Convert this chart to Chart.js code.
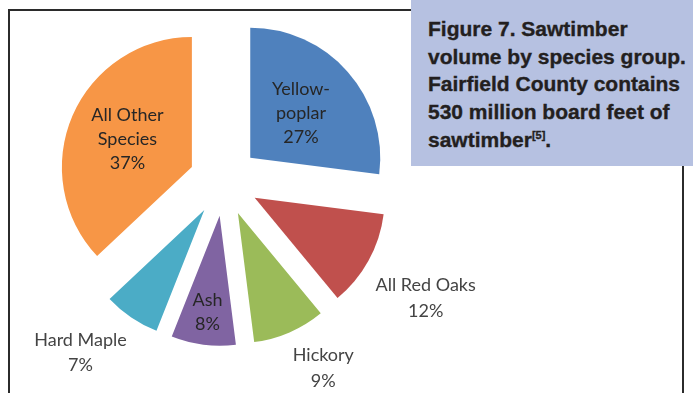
<!DOCTYPE html>
<html>
<head>
<meta charset="utf-8">
<script src="https://cdn.jsdelivr.net/npm/chart.js@4/dist/chart.umd.min.js"></script>
<style>
  body { margin: 0; width: 697px; height: 393px; background: #fff; overflow: hidden; position: relative; }
  #frame { position: absolute; left: 8px; top: 9px; width: 672px; height: 500px; border: 2px solid #2b2b2b; }
  #wrap { position: absolute; left: 0; top: 0; width: 697px; height: 393px; }
  #caption {
    position: absolute; left: 411px; top: 0; width: 265px; height: 151px;
    padding: 15px 0 0 17px; background: #b6c1e1; color: #231f20; white-space: nowrap;
    font-family: "Liberation Sans", Arial, sans-serif;
    font-weight: bold; font-size: 21px; line-height: 27.7px;
    -webkit-text-stroke: 0.35px #231f20;
  }
  #caption sup { font-size: 11px; vertical-align: 8px; line-height: 0; }
</style>
</head>
<body>
<div id="frame"></div>
<div id="wrap"><canvas id="pie"></canvas></div>
<div id="caption">Figure 7. Sawtimber<br>volume by species group.<br>Fairfield County contains<br>530 million board feet of<br>sawtimber<sup>[5]</sup>.</div>
<script>
// species groups, clockwise from 12 o'clock
const species = [['Yellow-', 'poplar'], ['All Red Oaks'], ['Hickory'], ['Ash'], ['Hard Maple'], ['All Other', 'Species']];
const percent = [27, 12, 9, 8, 7, 37];
const colors = ['#4f81bd', '#c0504d', '#9bbb59', '#8064a2', '#4bacc6', '#f79646'];
// where each label goes: fraction of radius when inside, null = outside the slice
const labelInset = [0.52, null, null, 0.745, null, 0.54];

const EXPLODE = 35;   // px each slice is pulled away from the centre

// chart.js "offset" also widens and trims arcs, so move each arc's centre instead
const explode = {
    id: 'explode',
    afterDatasetUpdate(chart, args) {
        args.meta.data.forEach(arc => {
            const mid = (arc.startAngle + arc.endAngle) / 2;
            arc.x += Math.cos(mid) * EXPLODE;
            arc.y += Math.sin(mid) * EXPLODE;
        });
    }
};

const sliceLabels = {
    id: 'sliceLabels',
    afterDatasetsDraw(chart) {
        const ctx = chart.ctx;
        const arcs = chart.getDatasetMeta(0).data;
        ctx.save();
        ctx.font = '18px Lato, "Noto Sans", sans-serif';
        ctx.textAlign = 'center';
        ctx.textBaseline = 'middle';
        arcs.forEach((arc, i) => {
            const mid = (arc.startAngle + arc.endAngle) / 2;
            const cos = Math.cos(mid), sin = Math.sin(mid);
            const lines = species[i].concat(percent[i] + '%');
            let x, top, lh;
            if (labelInset[i] !== null) {
                lh = 24;
                const r = arc.outerRadius * labelInset[i];
                x = arc.x + cos * r;
                top = arc.y + sin * r - lines.length * lh / 2;
                ctx.fillStyle = '#262626';
            } else {
                lh = 25.5;
                const r = arc.outerRadius + 8;
                const w = Math.max(...lines.map(t => ctx.measureText(t).width));
                // labels near the horizontal drop a little lower, as in the original layout
                const ax = arc.x + cos * r;
                const ay = arc.y + sin * r + Math.max(0, Math.abs(cos) - 0.7) * 30;
                x = cos >= 0 ? ax + w / 2 : ax - w / 2;
                top = sin >= 0 ? ay + 3 : ay - lines.length * lh - 3;
                ctx.fillStyle = '#444444';
            }
            lines.forEach((t, k) => ctx.fillText(t, x, top + lh * k + lh / 2));
        });
        ctx.restore();
    }
};

document.addEventListener('DOMContentLoaded', () => {
    new Chart(document.getElementById('pie'), {
        type: 'pie',
        data: {
            labels: species.map(s => s.join(' ')),
            datasets: [{
                data: percent,
                backgroundColor: colors,
                borderWidth: 0,
                radius: 130
            }]
        },
        options: {
            responsive: true,
            maintainAspectRatio: false,
            animation: false,
            // pie centre sits at (224, 181)
            layout: { padding: { left: 0, top: 0, right: 249, bottom: 31 } },
            plugins: { legend: { display: false }, tooltip: { enabled: false } }
        },
        plugins: [explode, sliceLabels]
    });
});
</script>
</body>
</html>
